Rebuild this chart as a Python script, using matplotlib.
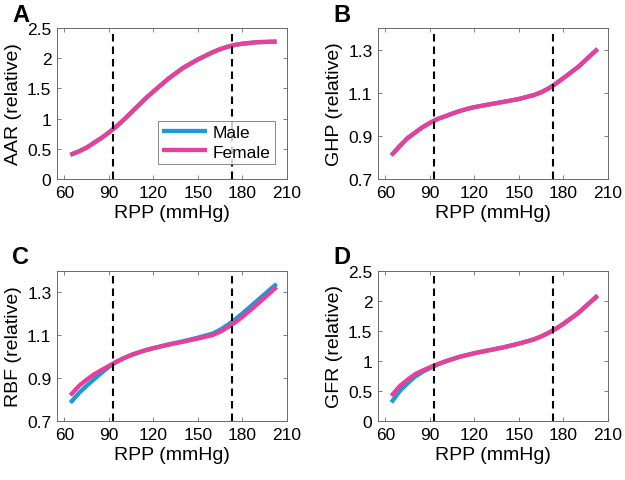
import matplotlib
matplotlib.use("Agg")
import matplotlib.pyplot as plt

plt.rcParams['font.family'] = ['Liberation Sans', 'DejaVu Sans']

rpp = [64, 70, 75, 80, 85, 90, 95, 100, 105, 110, 115, 120, 130, 140, 150, 160, 165, 170, 175, 180, 190, 203]

aar_male = [0.40, 0.46, 0.52, 0.60, 0.68, 0.77, 0.87, 0.98, 1.10, 1.22, 1.34, 1.45, 1.66, 1.84, 1.98, 2.10, 2.15, 2.19, 2.22, 2.24, 2.265, 2.275]
aar_female = [0.40, 0.46, 0.52, 0.60, 0.68, 0.77, 0.87, 0.98, 1.10, 1.22, 1.34, 1.45, 1.66, 1.84, 1.98, 2.10, 2.15, 2.19, 2.22, 2.24, 2.265, 2.275]

ghp_male = [0.81, 0.855, 0.89, 0.915, 0.94, 0.96, 0.978, 0.99, 1.003, 1.015, 1.025, 1.033, 1.046, 1.058, 1.071, 1.089, 1.102, 1.12, 1.143, 1.168, 1.22, 1.303]
ghp_female = [0.81, 0.855, 0.89, 0.915, 0.94, 0.96, 0.978, 0.99, 1.003, 1.015, 1.025, 1.033, 1.046, 1.058, 1.071, 1.089, 1.102, 1.12, 1.143, 1.168, 1.22, 1.303]

rbf_male = [0.785, 0.832, 0.865, 0.895, 0.925, 0.953, 0.975, 0.993, 1.008, 1.02, 1.031, 1.04, 1.057, 1.072, 1.089, 1.108, 1.126, 1.148, 1.174, 1.202, 1.262, 1.34]
rbf_female = [0.82, 0.865, 0.893, 0.918, 0.938, 0.957, 0.977, 0.993, 1.008, 1.02, 1.031, 1.04, 1.056, 1.07, 1.085, 1.101, 1.117, 1.137, 1.16, 1.186, 1.245, 1.325]

gfr_male = [0.31, 0.51, 0.63, 0.74, 0.82, 0.88, 0.94, 0.99, 1.03, 1.07, 1.10, 1.13, 1.18, 1.23, 1.29, 1.36, 1.41, 1.47, 1.54, 1.62, 1.80, 2.09]
gfr_female = [0.42, 0.59, 0.69, 0.78, 0.84, 0.895, 0.945, 0.99, 1.03, 1.07, 1.10, 1.13, 1.18, 1.23, 1.29, 1.36, 1.41, 1.47, 1.54, 1.62, 1.80, 2.09]

dashed_x = [93, 173]
xticks = [60, 90, 120, 150, 180, 210]

panels = [
    ("A", "AAR (relative)", aar_male, aar_female, (0, 2.5), [0, 0.5, 1, 1.5, 2, 2.5], ["0", "0.5", "1", "1.5", "2", "2.5"]),
    ("B", "GHP (relative)", ghp_male, ghp_female, (0.7, 1.4), [0.7, 0.9, 1.1, 1.3], ["0.7", "0.9", "1.1", "1.3"]),
    ("C", "RBF (relative)", rbf_male, rbf_female, (0.7, 1.4), [0.7, 0.9, 1.1, 1.3], ["0.7", "0.9", "1.1", "1.3"]),
    ("D", "GFR (relative)", gfr_male, gfr_female, (0, 2.5), [0, 0.5, 1, 1.5, 2, 2.5], ["0", "0.5", "1", "1.5", "2", "2.5"]),
]

W, H = 625, 481
fig = plt.figure(figsize=(6.25, 4.81), dpi=100)

boxes = [(57, 29, 287, 180), (378, 29, 608, 180), (57, 272, 287, 422), (378, 272, 608, 422)]
label_pos = [(12, 16), (333, 16), (12, 258), (333, 258)]

blue = "#1b9ad6"
pink = "#e8409a"
frame = "#6a6a6a"

for (lab, ylabel, ym, yf, ylim, yt, ytl), (l, t, r, b), (lx, ly) in zip(panels, boxes, label_pos):
    ax = fig.add_axes([l / W, 1 - b / H, (r - l) / W, (b - t) / H])
    ax.plot(rpp, ym, color=blue, lw=3.1, solid_capstyle='butt', solid_joinstyle='round', label="Male")
    ax.plot(rpp, yf, color=pink, lw=3.1, solid_capstyle='butt', solid_joinstyle='round', label="Female")
    for dx in dashed_x:
        ax.axvline(dx, color="black", lw=1.5, ls=(0, (3.6, 2.4)))
    ax.set_xlim(55, 210)
    ax.set_ylim(*ylim)
    ax.set_xticks(xticks)
    ax.set_yticks(yt)
    ax.set_yticklabels(ytl)
    ax.tick_params(direction='in', length=3, width=0.6, labelsize=12.5, top=True, right=True,
                   color=frame, labelcolor="black", pad=4)
    for s in ax.spines.values():
        s.set_linewidth(0.7)
        s.set_color(frame)
    ax.set_xlabel("RPP (mmHg)", fontsize=14, labelpad=3)
    ax.set_ylabel(ylabel, fontsize=14, labelpad=4)
    fig.text(lx / W, 1 - ly / H, lab, fontsize=17, fontweight='bold', ha='left', va='center')
    if lab == "A":
        leg = ax.legend(loc='lower right', bbox_to_anchor=(0.947, 0.10), fontsize=12.5,
                        frameon=True, fancybox=False, handlelength=2.6, borderpad=0.25,
                        labelspacing=0.25, handletextpad=0.3, borderaxespad=0)
        leg.get_frame().set_edgecolor(frame)
        leg.get_frame().set_linewidth(0.7)

fig.savefig("out.png", dpi=100)
